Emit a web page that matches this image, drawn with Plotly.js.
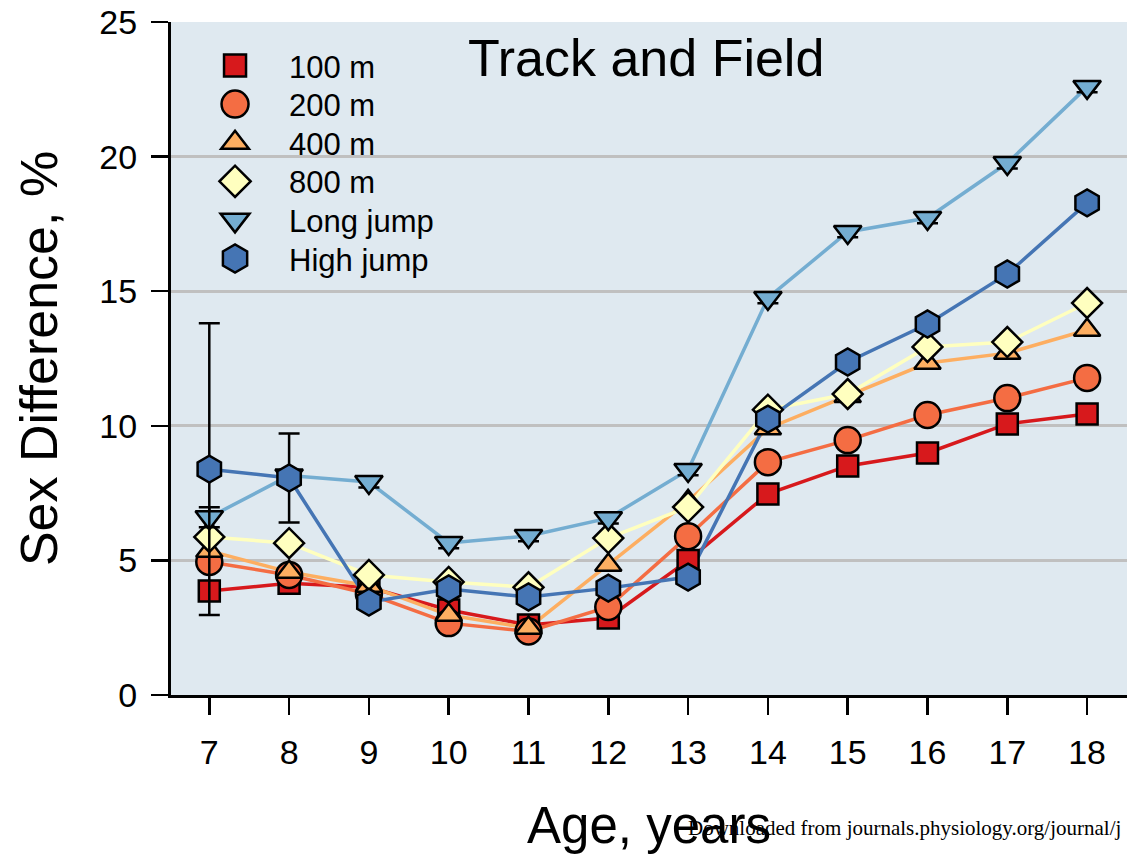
<!DOCTYPE html>
<html>
<head>
<meta charset="utf-8">
<script src="https://cdn.plot.ly/plotly-3.0.1.min.js"></script>
<style>
  html, body { margin: 0; padding: 0; background: #ffffff; }
  #chart { width: 1127px; height: 860px; }
</style>
</head>
<body>
<div id="chart"></div>
<script>
// Age groups (years)
const ages = [7, 8, 9, 10, 11, 12, 13, 14, 15, 16, 17, 18];
const ageTicks = ['7', '8', '9', '10', '11', '12', '13', '14', '15', '16', '17', '18'];

// Sex difference in performance, % (per event)
const sprint100 = [3.86, 4.15, 4.0, 3.16, 2.60, 2.86, 5.0, 7.47, 8.51, 8.99, 10.07, 10.44];
const sprint200 = [4.94, 4.46, 3.75, 2.67, 2.36, 3.27, 5.9, 8.65, 9.47, 10.40, 11.03, 11.78];
const run400 = [5.35, 4.57, 4.05, 2.97, 2.49, 4.83, 7.2, 9.9, 11.1, 12.33, 12.70, 13.56];
const run800 = [5.87, 5.64, 4.46, 4.2, 4.0, 5.83, 6.98, 10.6, 11.18, 12.93, 13.11, 14.56];
const longJump = [6.6, 8.15, 7.91, 5.65, 5.91, 6.57, 8.36, 14.75, 17.2, 17.72, 19.76, 22.59];
const highJump = [8.39, 8.06, 3.45, 3.94, 3.64, 3.97, 4.38, 10.25, 12.37, 13.78, 15.64, 18.28];

// Error (SE) where shown
const longJumpErr = [0.37, 0.2, 0.2, 0.2, 0.2, 0.2, 0.2, 0.2, 0.2, 0.2, 0.2, 0.2];
const highJumpErr = [5.42, 1.65, NaN, NaN, NaN, NaN, NaN, NaN, NaN, NaN, NaN, NaN];

const eventNames = ['100 m', '200 m', '400 m', '800 m', 'Long jump', 'High jump'];

const series = [
  { name: eventNames[0], y: sprint100, color: '#d7191c', symbol: 'square', size: 21 },
  { name: eventNames[1], y: sprint200, color: '#f46d43', symbol: 'circle', size: 26 },
  { name: eventNames[2], y: run400, color: '#fdae61', symbol: 'triangle-up', size: 23 },
  { name: eventNames[3], y: run800, color: '#ffffbf', symbol: 'diamond', size: 23 },
  { name: eventNames[4], y: longJump, color: '#74add1', symbol: 'triangle-down', size: 24, err: longJumpErr },
  { name: eventNames[5], y: highJump, color: '#4575b4', symbol: 'hexagon', size: 27, err: highJumpErr }
];

// connecting lines first, so every symbol sits above them
const lineTraces = series.map(s => ({
  type: 'scatter',
  mode: 'lines',
  x: ages,
  y: s.y,
  line: { color: s.color, width: 3.5 },
  showlegend: false,
  hoverinfo: 'skip'
}));

const markerTraces = series.map(s => {
  const t = {
    type: 'scatter',
    mode: 'markers',
    name: s.name,
    x: ages,
    y: s.y,
    marker: {
      symbol: s.symbol,
      size: s.size,
      color: s.color,
      line: { color: '#000000', width: 2.5 }
    }
  };
  if (s.err) {
    t.error_y = {
      type: 'data',
      array: s.err,
      visible: true,
      color: '#000000',
      thickness: 2.5,
      width: 10.5
    };
  }
  return t;
});

const font = 'Liberation Sans, Arial, sans-serif';

const layout = {
  width: 1127,
  height: 860,
  margin: { l: 171, r: 0, t: 22, b: 165 },
  paper_bgcolor: '#ffffff',
  plot_bgcolor: '#dfe9f0',
  showlegend: true,
  font: { family: font, color: '#000000' },
  title: {
    text: 'Track and Field',
    font: { family: font, size: 52, color: '#000000' },
    xref: 'paper', yref: 'paper',
    x: 0.497, y: 0.9465,
    xanchor: 'center', yanchor: 'middle'
  },
  xaxis: {
    range: [6.52, 18.5],
    tickmode: 'array',
    tickvals: ages,
    ticktext: ageTicks,
    ticks: 'outside',
    ticklen: 17,
    tickwidth: 2.5,
    tickcolor: '#000000',
    showline: true,
    linewidth: 3,
    linecolor: '#000000',
    showgrid: false,
    zeroline: false,
    tickfont: { family: font, size: 34, color: '#000000' },
    ticklabelstandoff: 8,
    title: { text: 'Age, years', font: { family: font, size: 51, color: '#000000' }, standoff: 38 }
  },
  yaxis: {
    range: [0, 25],
    tickvals: [0, 5, 10, 15, 20, 25],
    ticks: 'outside',
    ticklen: 17,
    tickwidth: 2.5,
    tickcolor: '#000000',
    showline: true,
    linewidth: 3,
    linecolor: '#000000',
    showgrid: true,
    gridcolor: '#c0c0c0',
    gridwidth: 3,
    zeroline: false,
    tickfont: { family: font, size: 34, color: '#000000' },
    ticklabelstandoff: 7,
    title: { text: 'Sex Difference, %', font: { family: font, size: 52, color: '#000000' }, standoff: 26 }
  },
  legend: {
    x: 0.0105, y: 0.975,
    xanchor: 'left', yanchor: 'top',
    bgcolor: 'rgba(0,0,0,0)',
    borderwidth: 0,
    font: { family: font, size: 31, color: '#000000' },
    itemwidth: 98,
    tracegroupgap: 0
  },
  annotations: [{
    text: 'Downloaded from journals.physiology.org/journal/j',
    xref: 'paper', yref: 'paper',
    x: 0.539, y: -0.1975,
    xanchor: 'left', yanchor: 'middle',
    showarrow: false,
    font: { family: 'Liberation Serif, Times New Roman, serif', size: 21, color: '#000000' }
  }]
};

// symbol size wanted in the legend, per trace (legend caps markers at 16 px)
const legendSymbolSize = series.map(s => s.size + 1);
const legendRowStep = 38.6;

Plotly.newPlot('chart', lineTraces.concat(markerTraces), layout, { displayModeBar: false, staticPlot: true })
  .then(gd => {
    const rows = gd.querySelectorAll('.legend .traces');
    let y0 = null;
    rows.forEach((g, i) => {
      const m = /translate\(\s*([-\d.]+)[ ,]+([-\d.]+)\s*\)/.exec(g.getAttribute('transform') || '');
      if (m) {
        if (y0 === null) y0 = parseFloat(m[2]);
        g.setAttribute('transform', 'translate(' + m[1] + ',' + (y0 + i * legendRowStep) + ')');
      }
      const k = legendSymbolSize[i] / 16;
      g.querySelectorAll('.legendpoints path.scatterpts').forEach(p => {
        const tf = p.getAttribute('transform') || '';
        p.setAttribute('transform', tf + ' scale(' + k + ')');
        p.style.strokeWidth = (2.5 / k) + 'px';
      });
    });
  });
</script>
</body>
</html>
